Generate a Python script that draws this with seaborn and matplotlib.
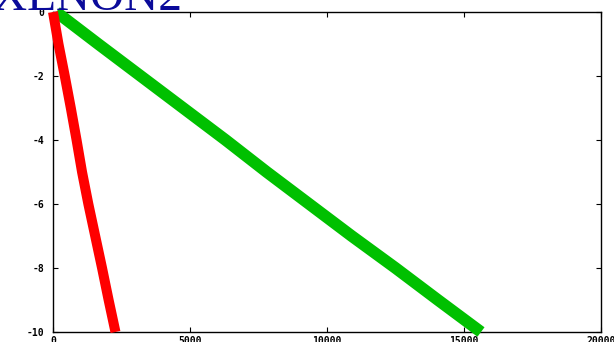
import matplotlib
matplotlib.use("Agg")
import matplotlib.pyplot as plt
import seaborn as sns
import pandas as pd

# Red trace (steep)
red_x = [0, 200, 430, 650, 860, 1060, 1290, 1540, 1790, 2030, 2280]
red_y = [0, -1, -2, -3, -4, -5, -6, -7, -8, -9, -10]

# Green trace (shallow)
green_x = [120, 1650, 3200, 4750, 6300, 7800, 9350, 10900, 12500, 14050, 15620]
green_y = [0, -1, -2, -3, -4, -5, -6, -7, -8, -9, -10]

x_ticks = [0, 5000, 10000, 15000, 20000]
y_ticks = [0, -2, -4, -6, -8, -10]

sns.set_theme(style="white")
plt.rcParams["font.family"] = ["DejaVu Sans Mono", "DejaVu Sans"]

fig = plt.figure(figsize=(6.14, 3.42), dpi=100)
ax = fig.add_axes([53 / 614, 10 / 342, 548 / 614, 320 / 342])

red = pd.DataFrame({"x": red_x, "y": red_y})
green = pd.DataFrame({"x": green_x, "y": green_y})

sns.lineplot(data=green, x="x", y="y", sort=False, estimator=None, ax=ax,
             color="#00c000", linewidth=8.5, solid_capstyle="butt",
             solid_joinstyle="round", clip_on=False, zorder=3)
sns.lineplot(data=red, x="x", y="y", sort=False, estimator=None, ax=ax,
             color="#ff0000", linewidth=7.2, solid_capstyle="butt",
             solid_joinstyle="round", clip_on=False, zorder=4)

ax.set_xlim(0, 20000)
ax.set_ylim(-10, 0)
ax.set_xticks(x_ticks)
ax.set_yticks(y_ticks)
ax.set_xticklabels([str(v) for v in x_ticks])
ax.set_yticklabels([str(v) for v in y_ticks])
ax.set_xlabel("")
ax.set_ylabel("")

for s in ax.spines.values():
    s.set_visible(True)
    s.set_color("#000000")
    s.set_linewidth(1.0)

ax.tick_params(axis="both", which="major", direction="in", length=3.5, width=0.8,
               colors="#000000", labelsize=7, top=True, right=True,
               bottom=True, left=True)
ax.tick_params(axis="x", pad=3)
ax.tick_params(axis="y", pad=6)
for lbl in ax.get_xticklabels() + ax.get_yticklabels():
    lbl.set_fontweight("bold")

# Title, partly above the top edge of the canvas
fig.text(-0.012, 1 - 10 / 342, "XENON2", family=["Liberation Serif", "DejaVu Serif"],
         fontsize=34, color="#0a0a9a", ha="left", va="baseline")

fig.savefig("out.png", dpi=100, facecolor="white")
